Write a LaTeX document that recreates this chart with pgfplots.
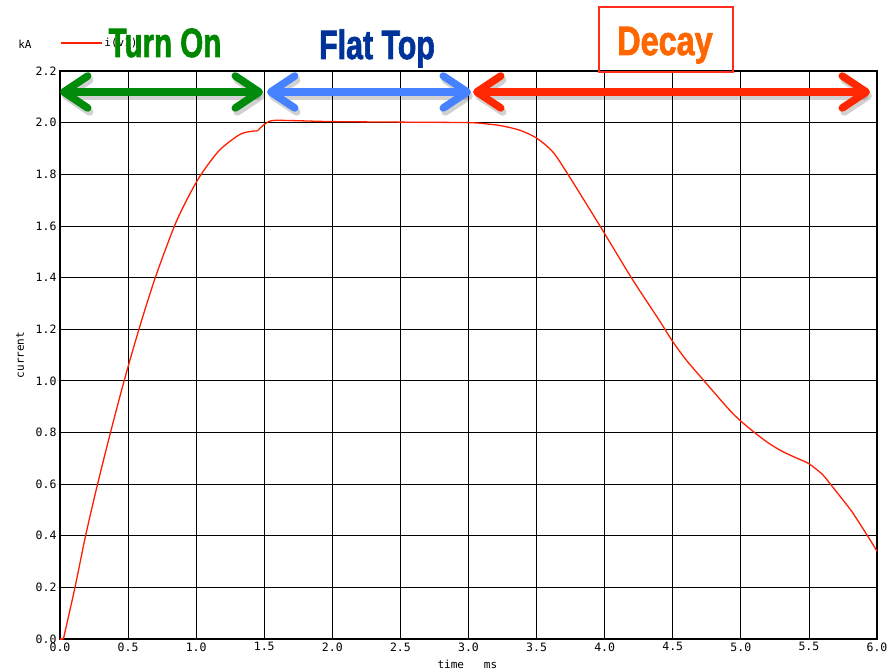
\documentclass[border=0pt]{standalone}
\usepackage{fontspec}
\usepackage{pgfplots}
\pgfplotsset{compat=1.18}
\usetikzlibrary{arrows.meta}
\newfontfamily\mono{DejaVu Sans Mono}
\newfontfamily\impact{Liberation Sans Bold}[FakeBold=2]
\definecolor{curvered}{RGB}{255,30,0}
\definecolor{tgreen}{RGB}{0,135,0}
\definecolor{agreen}{RGB}{0,140,10}
\definecolor{tblue}{RGB}{0,51,153}
\definecolor{ablue}{RGB}{70,130,255}
\definecolor{ared}{RGB}{255,40,0}
\definecolor{dorange}{RGB}{255,102,0}
\definecolor{boxred}{RGB}{255,45,30}
\begin{document}
\begin{tikzpicture}
\path[use as bounding box] (-60pt,-31pt) rectangle (828pt,639pt);
\begin{axis}[
  at={(0pt,0pt)}, anchor=south west,
  scale only axis, width=817pt, height=568pt,
  xmin=0, xmax=6, ymin=0, ymax=2.2,
  xtick={0,0.5,...,6}, ytick={0,0.2,...,2.2},
  major tick length=0pt,
  grid=major,
  major grid style={black, line width=0.8pt},
  axis line style={black, line width=1.6pt},
  /pgf/number format/assume math mode=true,
  /pgf/number format/.cd, fixed, fixed zerofill, precision=1, /pgfplots/.cd,
  ticklabel style={font=\mono\fontsize{11.5}{13}\selectfont},
  legend style={at={(axis description cs:0,1)}, anchor=west, yshift=28pt,
    draw=none, fill=none, inner xsep=0pt, font=\mono\fontsize{11}{13}\selectfont},
  legend image code/.code={\draw[#1] (0pt,0pt) -- (41pt,0pt);},
  clip=false,
]
\addplot[curvered, line width=1.3pt] coordinates {(0,0) (0.025,0)};
\addlegendentry{i(v1)}
\addplot[curvered, line width=1.3pt, smooth, tension=0.5, forget plot] coordinates {
(0.025,0) (0.11,0.2) (0.188,0.4) (0.276,0.6) (0.371,0.8) (0.471,1.0)
(0.58,1.2) (0.70,1.4) (0.841,1.6) (0.94,1.71) (1.037,1.8) (1.171,1.893)
(1.317,1.953) (1.40,1.966) (1.45,1.968)
};
\addplot[curvered, line width=1.3pt, smooth, tension=0.5, forget plot] coordinates {
(1.45,1.968) (1.50,1.993) (1.56,2.008)
(1.7,2.008) (2.0,2.004) (2.5,2.002) (3.0,2.0) (3.15,1.994)
(3.25,1.987) (3.38,1.97) (3.5,1.94) (3.62,1.886) (3.73,1.80) (3.86,1.69)
(4.0,1.57) (4.2,1.396) (4.4,1.235) (4.5,1.152) (4.6,1.08) (4.73,1.0)
(4.915,0.888) (5.0,0.844) (5.1,0.80) (5.2,0.76) (5.3,0.728) (5.4,0.703)
(5.5,0.679) (5.6,0.637) (5.65,0.605) (5.74,0.545) (5.82,0.49) (5.93,0.4) (6.0,0.34)
};
\end{axis}
% axis annotations
\node[font=\mono\fontsize{11}{13}\selectfont] at (-35pt,595pt) {kA};
\node[font=\mono\fontsize{11}{13}\selectfont, rotate=90] at (-40pt,284pt) {current};
\node[font=\mono\fontsize{11}{13}\selectfont, anchor=west] at (374pt,-25pt) {time\ \ \ ms};
% arrows
\tikzset{barb/.style={line width=7.5pt, line cap=round,
  {Straight Barb[round,length=24pt,width=32pt,line width=7.5pt]}-{Straight Barb[round,length=24pt,width=32pt,line width=7.5pt]}}}
\foreach \a/\b in {0/203, 207/411, 413/810}{
  \draw[barb, black, opacity=0.18] (\a pt+2pt,543pt) -- (\b pt+2pt,543pt);
}
\draw[barb, agreen] (0pt,547pt) -- (203pt,547pt);
\draw[barb, ablue] (207pt,547pt) -- (411pt,547pt);
\draw[barb, ared] (413pt,547pt) -- (810pt,547pt);
% labels
\node[anchor=base, inner sep=0pt, text=tgreen, font=\impact\fontsize{41}{41}\selectfont] at (105pt,582pt) {\scalebox{0.72}[1]{Turn On}};
\node[anchor=base, inner sep=0pt, text=tblue, font=\impact\fontsize{41}{41}\selectfont] at (317pt,580pt) {\scalebox{0.74}[1]{Flat Top}};
\draw[boxred, line width=1.6pt] (539pt,567pt) rectangle (673pt,632pt);
\node[anchor=base, inner sep=0pt, text=dorange, font=\impact\fontsize{41}{41}\selectfont] at (605pt,584pt) {\scalebox{0.79}[1]{Decay}};
\end{tikzpicture}
\end{document}
